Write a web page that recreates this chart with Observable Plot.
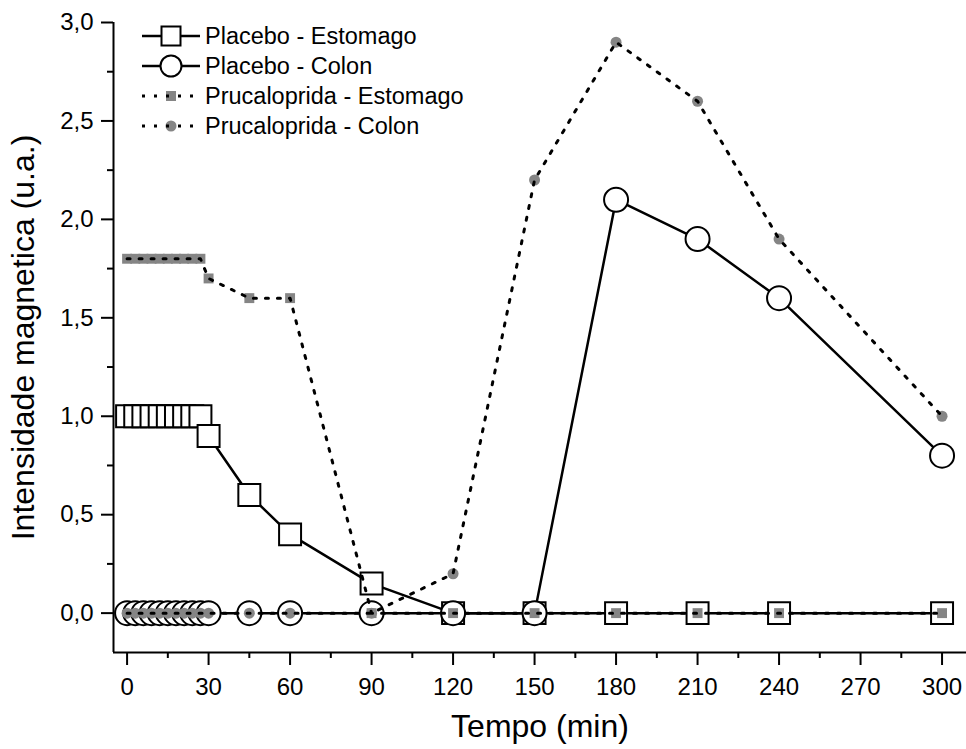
<!DOCTYPE html>
<html>
<head>
<meta charset="utf-8">
<script src="https://cdn.jsdelivr.net/npm/d3@7"></script>
<script src="https://cdn.jsdelivr.net/npm/@observablehq/plot@0.6"></script>
<style>
  body { margin: 0; background: #fff; font-family: "Liberation Sans", Arial, sans-serif; }
  #wrap { position: relative; width: 966px; height: 749px; }
  #legend { position: absolute; left: 140px; top: 21px; }
  .row { display: flex; align-items: center; height: 30px; font-size: 23.5px; color: #000; }
  .row svg { margin-right: 3px; }
  #chart svg [aria-label="x-axis tick label"] text,
  #chart svg [aria-label="y-axis tick label"] text { font-size: 24px; }
  #chart svg [aria-label="x-axis label"] text,
  #chart svg [aria-label="y-axis label"] text { font-size: 32px; }
</style>
</head>
<body>
<div id="wrap">
  <div id="chart"></div>
  <div id="legend"></div>
</div>
<script>
// ---- data ----
const times = [0, 3, 6, 9, 12, 15, 18, 21, 24, 27, 30, 45, 60, 90, 120, 150, 180, 210, 240, 300];
const placeboEstomago     = [1, 1, 1, 1, 1, 1, 1, 1, 1, 1, 0.9, 0.6, 0.4, 0.15, 0, 0, 0, 0, 0, 0];
const placeboColon        = [0, 0, 0, 0, 0, 0, 0, 0, 0, 0, 0, 0, 0, 0, 0, 0, 2.1, 1.9, 1.6, 0.8];
const prucalopridaEstomago = [1.8, 1.8, 1.8, 1.8, 1.8, 1.8, 1.8, 1.8, 1.8, 1.8, 1.7, 1.6, 1.6, 0, 0, 0, 0, 0, 0, 0];
const prucalopridaColon    = [0, 0, 0, 0, 0, 0, 0, 0, 0, 0, 0, 0, 0, 0, 0.2, 2.2, 2.9, 2.6, 1.9, 1.0];
const seriesNames = ["Placebo - Estomago", "Placebo - Colon", "Prucaloprida - Estomago", "Prucaloprida - Colon"];
const xTicks = [0, 30, 60, 90, 120, 150, 180, 210, 240, 270, 300];
const xMinorTicks = [15, 45, 75, 105, 135, 165, 195, 225, 255, 285];
const yTicks = [0, 0.5, 1.0, 1.5, 2.0, 2.5, 3.0];
const yMinorTicks = [0.25, 0.75, 1.25, 1.75, 2.25, 2.75];
const xDomain = [-5, 309];
const yDomain = [-0.2, 3.0];

const toRows = arr => times.map((t, i) => ({t, v: arr[i]}));
const pe = toRows(placeboEstomago);
const pc = toRows(placeboColon);
const re = toRows(prucalopridaEstomago);
const rc = toRows(prucalopridaColon);

const gray = "#858585";
const dash = "3,9";
const fmt = d => d.toFixed(1).replace(".", ",");

const chart = Plot.plot({
  width: 966,
  height: 749,
  marginLeft: 113,
  marginRight: 0,
  marginTop: 22,
  marginBottom: 97,
  style: {fontFamily: "Liberation Sans, Arial, sans-serif", fontSize: "24px", color: "#000", background: "#fff"},
  x: {domain: xDomain},
  y: {domain: yDomain},
  marks: [
    Plot.axisX({ticks: xMinorTicks, tickSize: 6, strokeWidth: 2, text: null, label: null}),
    Plot.axisY({ticks: yMinorTicks, tickSize: 6, strokeWidth: 2, text: null, label: null}),
    Plot.axisX({ticks: xTicks, tickSize: 13, strokeWidth: 2, tickPadding: 12, tickFormat: d => String(d),
      label: "Tempo (min)", labelAnchor: "center", labelOffset: 84, labelArrow: "none"}),
    Plot.axisY({ticks: yTicks, tickSize: 12, strokeWidth: 2, tickPadding: 8, tickFormat: fmt,
      label: "Intensidade magnetica (u.a.)", labelAnchor: "center", labelOffset: 102, labelArrow: "none"}),
    Plot.ruleX([xDomain[0]], {stroke: "#000", strokeWidth: 2}),
    Plot.ruleY([yDomain[0]], {stroke: "#000", strokeWidth: 2}),
    Plot.line(pe, {x: "t", y: "v", stroke: "#000", strokeWidth: 2.5}),
    Plot.line(pc, {x: "t", y: "v", stroke: "#000", strokeWidth: 2.5}),
    Plot.dot(pe, {x: "t", y: "v", symbol: "square", r: 12.4, fill: "#fff", stroke: "#000", strokeWidth: 2}),
    Plot.dot(pc, {x: "t", y: "v", symbol: "circle", r: 12, fill: "#fff", stroke: "#000", strokeWidth: 2}),
    Plot.dot(re, {x: "t", y: "v", symbol: "square", r: 5.6, fill: gray, stroke: "none"}),
    Plot.dot(rc, {x: "t", y: "v", symbol: "circle", r: 5.5, fill: gray, stroke: "none"}),
    Plot.line(re, {x: "t", y: "v", stroke: "#000", strokeWidth: 3, strokeDasharray: dash}),
    Plot.line(rc, {x: "t", y: "v", stroke: "#000", strokeWidth: 3, strokeDasharray: dash})
  ]
});
document.getElementById("chart").appendChild(chart);

// ---- legend ----
const legendStyles = [
  {sym: "square", big: true, dashed: false},
  {sym: "circle", big: true, dashed: false},
  {sym: "square", big: false, dashed: true},
  {sym: "circle", big: false, dashed: true}
];
const legend = document.getElementById("legend");
seriesNames.forEach((name, i) => {
  const s = legendStyles[i];
  const row = document.createElement("div");
  row.className = "row";
  const ns = "http://www.w3.org/2000/svg";
  const svg = document.createElementNS(ns, "svg");
  svg.setAttribute("width", 62); svg.setAttribute("height", 30);
  const line = document.createElementNS(ns, "line");
  line.setAttribute("x1", 2); line.setAttribute("x2", 60);
  line.setAttribute("y1", 15); line.setAttribute("y2", 15);
  line.setAttribute("stroke", "#000");
  line.setAttribute("stroke-width", s.dashed ? 3 : 2.5);
  if (s.dashed) line.setAttribute("stroke-dasharray", dash);
  let m;
  if (s.sym === "square") {
    const side = s.big ? 19 : 10;
    m = document.createElementNS(ns, "rect");
    m.setAttribute("x", 31 - side / 2); m.setAttribute("y", 15 - side / 2);
    m.setAttribute("width", side); m.setAttribute("height", side);
  } else {
    m = document.createElementNS(ns, "circle");
    m.setAttribute("cx", 31); m.setAttribute("cy", 15);
    m.setAttribute("r", s.big ? 10.5 : 5.5);
  }
  if (s.big) { m.setAttribute("fill", "#fff"); m.setAttribute("stroke", "#000"); m.setAttribute("stroke-width", 2); }
  else { m.setAttribute("fill", gray); }
  if (s.dashed) { svg.appendChild(m); svg.appendChild(line); }
  else { svg.appendChild(line); svg.appendChild(m); }
  row.appendChild(svg);
  const span = document.createElement("span");
  span.textContent = name;
  row.appendChild(span);
  legend.appendChild(row);
});
</script>
</body>
</html>
